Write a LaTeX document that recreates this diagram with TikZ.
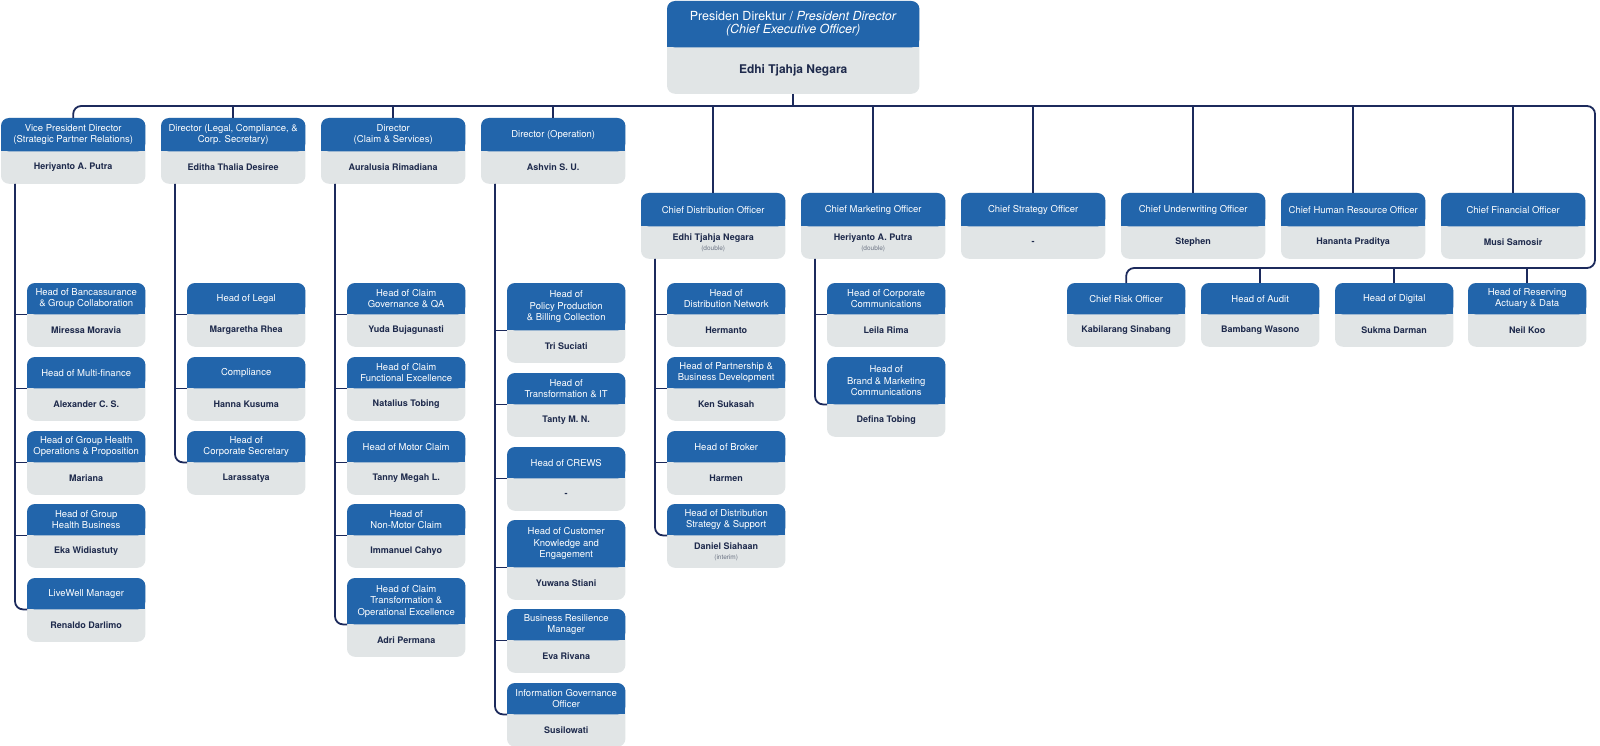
\documentclass[tikz,border=0pt]{standalone}
\usepackage{fontspec}
\setmainfont{TeX Gyre Heros}
\usetikzlibrary{positioning,backgrounds}
\definecolor{headblue}{HTML}{2265AB}
\definecolor{bodygray}{HTML}{E1E5E6}
\definecolor{linenavy}{HTML}{1C2A5C}
\definecolor{namenavy}{HTML}{1E2A4C}
\definecolor{notegray}{HTML}{6B7383}
\tikzset{
	headtext/.style = {anchor = north west, inner sep = 0pt, align = center, text = white,
		font = \fontsize{9.5}{11.5}\selectfont},
	nametext/.style = {anchor = north west, inner sep = 0pt, align = center, text = namenavy,
		font = \fontsize{9}{10.5}\selectfont\bfseries},
	orgline/.style = {draw = linenavy, line width = 1.8pt},
	elbow/.style = {orgline, rounded corners = 8pt}
}
% [body height]{name}{x}{y}{width}{header height}{title}{person}
\newcommand{\orgcard}[8][32]{
	\node [headtext, minimum width = #5pt, minimum height = #6pt] (#2-h) at (#3, #4) {#7};
	\node [nametext, minimum width = #5pt, minimum height = #1pt] (#2) at (#2-h.south west) {#8};
	\begin{scope}[on background layer]
		\fill [bodygray, rounded corners = 8pt] (#2-h.north west) rectangle (#2.south east);
		\fill [headblue, rounded corners = 8pt] (#2-h.north west) rectangle (#2-h.south east);
		\fill [headblue] (#2-h.west) rectangle (#2-h.south east);
	\end{scope}
}
\newcommand{\cardnote}[1]{{\mdseries\fontsize{6.5}{7.5}\selectfont\color{notegray}#1}}

\begin{document}
\begin{tikzpicture}[x = 1pt, y = -1pt]
	\useasboundingbox (0, 0) rectangle (1600, 746);

	% president director
	\orgcard[46]{ceo}{667}{1}{252}{46}{\fontsize{12.5}{13.5}\selectfont Presiden Direktur / \textit{President Director}\\[1.5pt]\fontsize{12.5}{13.5}\selectfont\textit{(Chief Executive Officer)}}{\fontsize{12}{14}\selectfont Edhi Tjahja Negara}

	% directors
	\orgcard{vp}{1}{118}{144}{33}{Vice President Director\\(Strategic Partner Relations)}{Heriyanto A. Putra}
	\orgcard{legal}{161}{118}{144}{33}{Director (Legal, Compliance, \&\\Corp. Secretary)}{Editha Thalia Desiree}
	\orgcard{claim}{321}{118}{144}{33}{Director\\(Claim \& Services)}{Auralusia Rimadiana}
	\orgcard{op}{481}{118}{144}{33}{Director (Operation)}{Ashvin S. U.}

	% chiefs
	\orgcard{cdo}{641}{193}{144}{33}{Chief Distribution Officer}{Edhi Tjahja Negara\\\cardnote{(double)}}
	\orgcard{cmo}{801}{193}{144}{33}{Chief Marketing Officer}{Heriyanto A. Putra\\\cardnote{(double)}}
	\foreach \nm/\i/\ttl/\who in {cso/6/Chief Strategy Officer/-,
		cuo/7/Chief Underwriting Officer/Stephen,
		chro/8/Chief Human Resource Officer/Hananta Praditya,
		cfo/9/Chief Financial Officer/Musi Samosir}{
		\orgcard{\nm}{1+160*\i}{193}{144}{33}{\ttl}{\who}
	}
	\foreach \nm/\x/\ttl/\who in {cro/1067/Chief Risk Officer/Kabilarang Sinabang,
		audit/1201/Head of Audit/Bambang Wasono,
		digital/1335/Head of Digital/Sukma Darman,
		reserving/1468/{Head of Reserving\\Actuary \& Data}/Neil Koo}{
		\orgcard{\nm}{\x}{283}{118}{31}{\ttl}{\who}
	}

	% heads under each director
	\foreach \i/\y/\hh/\ttl/\who in {1/283/31/{Head of Bancassurance\\\& Group Collaboration}/Miressa Moravia,
		2/357/31/Head of Multi-finance/Alexander C. S.,
		3/431/31/{Head of Group Health\\Operations \& Proposition}/Mariana,
		4/504/31/{Head of Group\\Health Business}/Eka Widiastuty,
		5/578/31/LiveWell Manager/Renaldo Darlimo}{
		\orgcard{vp\i}{27}{\y}{118}{\hh}{\ttl}{\who}
	}
	\foreach \i/\y/\hh/\ttl/\who in {1/283/31/Head of Legal/Margaretha Rhea,
		2/357/31/Compliance/Hanna Kusuma,
		3/431/31/{Head of\\Corporate Secretary}/Larassatya}{
		\orgcard{legal\i}{187}{\y}{118}{\hh}{\ttl}{\who}
	}
	\foreach \i/\y/\hh/\ttl/\who in {1/283/31/{Head of Claim\\Governance \& QA}/Yuda Bujagunasti,
		2/357/31/{Head of Claim\\Functional Excellence}/Natalius Tobing,
		3/431/31/Head of Motor Claim/Tanny Megah L.,
		4/504/31/{Head of\\Non-Motor Claim}/Immanuel Cahyo,
		5/578/46/{Head of Claim\\Transformation \&\\Operational Excellence}/Adri Permana}{
		\orgcard{claim\i}{347}{\y}{118}{\hh}{\ttl}{\who}
	}
	\foreach \i/\y/\hh/\ttl/\who in {1/283/47/{Head of\\Policy Production\\\& Billing Collection}/Tri Suciati,
		2/373/31/{Head of\\Transformation \& IT}/Tanty M. N.,
		3/447/31/Head of CREWS/-,
		4/520/47/{Head of Customer\\Knowledge and\\Engagement}/Yuwana Stiani,
		5/609/31/{Business Resilience\\Manager}/Eva Rivana,
		6/683/31/{Information Governance\\Officer}/Susilowati}{
		\orgcard{op\i}{507}{\y}{118}{\hh}{\ttl}{\who}
	}
	\foreach \i/\y/\hh/\ttl/\who in {1/283/31/{Head of\\Distribution Network}/Hermanto,
		2/357/31/{Head of Partnership \&\\Business Development}/Ken Sukasah,
		3/431/31/Head of Broker/Harmen,
		4/504/31/{Head of Distribution\\Strategy \& Support}/{Daniel Siahaan\\\cardnote{(interim)}}}{
		\orgcard{cdo\i}{667}{\y}{118}{\hh}{\ttl}{\who}
	}
	\foreach \i/\y/\hh/\ttl/\who in {1/283/31/{Head of Corporate\\Communications}/Leila Rima,
		2/357/47/{Head of\\Brand \& Marketing\\Communications}/Defina Tobing}{
		\orgcard{cmo\i}{827}{\y}{118}{\hh}{\ttl}{\who}
	}

	% main bus
	\coordinate (busR) at (1595, 106);
	\coordinate (busD) at (1595, 268);
	\draw [elbow] (vp-h.north) |- (busR) -- (busD) -| (cro-h.north);
	\draw [orgline] (ceo.south) -- (ceo.south |- busR);
	\foreach \nm in {legal, claim, op, cdo, cmo, cso, cuo, chro, cfo}
		\draw [orgline] (\nm-h.north) -- (\nm-h.north |- busR);
	\foreach \nm in {audit, digital, reserving}
		\draw [orgline] (\nm-h.north) -- (\nm-h.north |- busD);

	% spines
	\foreach \p/\n in {vp/5, legal/3, claim/5, op/6, cdo/4, cmo/2}{
		\draw [elbow] ([xshift = 14pt]\p.south west) |- (\p\n-h.south west);
		\pgfmathparse{int(\n - 1)}
		\let\last\pgfmathresult
		\foreach \i in {1,...,\last}
			\draw [orgline] ([xshift = 14pt]\p.south west) |- (\p\i-h.south west);
	}
\end{tikzpicture}
\end{document}
